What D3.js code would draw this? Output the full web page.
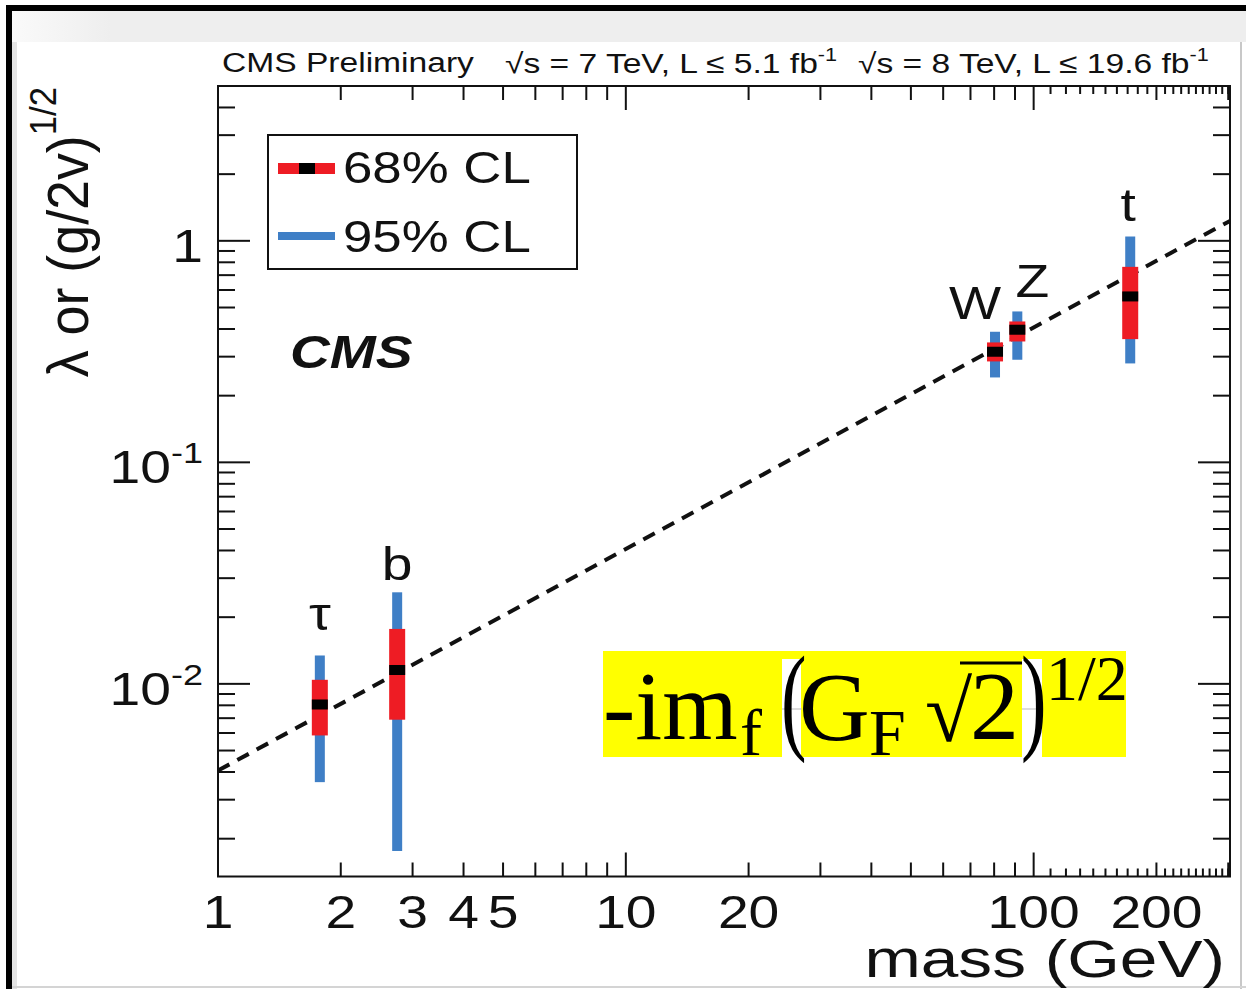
<!DOCTYPE html>
<html>
<head>
<meta charset="utf-8">
<script src="https://cdn.jsdelivr.net/npm/d3@7"></script>
<style>
  body { margin: 0; background: #fff; }
  svg { font-family: "Liberation Sans", Arial, sans-serif; }
</style>
</head>
<body>
<svg id="chart" width="1246" height="989"></svg>
<script>
const particles = ["τ", "b", "W", "Z", "t"];
const masses = [1.777, 2.75, 80.4, 91.19, 172.5];
const central = [0.00807, 0.01155, 0.3157, 0.3969, 0.561];
const lo68 = [0.00585, 0.00689, 0.2855, 0.3513, 0.36];
const hi68 = [0.01043, 0.0177, 0.3478, 0.4325, 0.763];
const lo95 = [0.0036, 0.00176, 0.2417, 0.2905, 0.2796];
const hi95 = [0.01343, 0.0259, 0.3886, 0.48, 1.046];
// SM expectation (end points of the dashed line)
const smMass = [1, 303];
const smCoupling = [0.00406, 1.23];
const xTickLabels = [1, 2, 3, 4, 5, 10, 20, 100, 200];
const yTickValues = [1, 0.1, 0.01];
const yTickExps = ["", "-1", "-2"];

const SX = 1.2; // the picture is stretched sideways
const red = "#ee1c24", blue = "#3f7fc6", ink = "#111";

const svg = d3.select("#chart");

// page frame
svg.append("rect").attr("x", 0).attr("y", 0).attr("width", 1246).attr("height", 989).attr("fill", "#fff");
const grad = svg.append("defs").append("linearGradient").attr("id", "topband");
grad.append("stop").attr("offset", "0%").attr("stop-color", "#fafafa");
grad.append("stop").attr("offset", "8%").attr("stop-color", "#eeeeee");
grad.append("stop").attr("offset", "100%").attr("stop-color", "#eeeeee");
svg.append("rect").attr("x", 12).attr("y", 11).attr("width", 1234).attr("height", 31).attr("fill", "url(#topband)");
svg.append("rect").attr("x", 12).attr("y", 42).attr("width", 5).attr("height", 947).attr("fill", "#e4e4e4");
svg.append("rect").attr("x", 1240).attr("y", 42).attr("width", 2).attr("height", 947).attr("fill", "#c8c8c8");
svg.append("rect").attr("x", 12).attr("y", 986).attr("width", 1234).attr("height", 2).attr("fill", "#d4d4d4");
svg.append("rect").attr("x", 6).attr("y", 5).attr("width", 1240).attr("height", 6).attr("fill", "#000");
svg.append("rect").attr("x", 6).attr("y", 5).attr("width", 6).attr("height", 984).attr("fill", "#000");

const x = d3.scaleLog().domain([1, 303]).range([218, 1230]);
const y = d3.scaleLog().domain([0.00135, 5]).range([876.5, 86]);

function stext(g, px, py, size, anchor, sx) {
    return g.append("text")
        .attr("transform", "translate(" + px + "," + py + ") scale(" + (sx || SX) + ",1)")
        .attr("font-size", size)
        .attr("fill", ink)
        .attr("text-anchor", anchor || "start");
}

// ticks on all four sides
const ticks = svg.append("g").attr("stroke", ink).attr("stroke-width", 2);
const xt = x.ticks().filter(v => v <= 303).map(v => ({v: v, len: [1, 10, 100].includes(v) ? 24 : 14}))
    .concat(d3.range(110, 301, 10).filter(v => v !== 200).map(v => ({v: v, len: 8})));
xt.forEach(d => {
    const px = x(d.v);
    ticks.append("line").attr("x1", px).attr("x2", px).attr("y1", 876.5).attr("y2", 876.5 - d.len);
    ticks.append("line").attr("x1", px).attr("x2", px).attr("y1", 86).attr("y2", 86 + d.len);
});
y.ticks().forEach(v => {
    const py = y(v);
    const len = yTickValues.includes(v) ? 32 : 17;
    ticks.append("line").attr("x1", 218).attr("x2", 218 + len).attr("y1", py).attr("y2", py);
    ticks.append("line").attr("x1", 1230).attr("x2", 1230 - len).attr("y1", py).attr("y2", py);
});
svg.append("rect").attr("x", 218).attr("y", 86).attr("width", 1012).attr("height", 790.5)
    .attr("fill", "none").attr("stroke", ink).attr("stroke-width", 2);

// tick labels
xTickLabels.forEach(v => {
    stext(svg, x(v), 928, 46, "middle").text(v);
});
yTickValues.forEach((v, i) => {
    const t = stext(svg, 203, y(v) + 21, 46, "end");
    if (yTickExps[i] === "") {
        t.text("1");
    } else {
        t.append("tspan").text("10");
        t.append("tspan").attr("font-size", 30).attr("dy", -20).text(yTickExps[i]);
    }
});

// axis titles
stext(svg, 1225, 977, 52, "end", 1.3).text("mass (GeV)");
const yt = svg.append("text")
    .attr("transform", "translate(88,87) rotate(-90) scale(1.12," + SX + ")")
    .attr("font-size", 48).attr("fill", ink).attr("text-anchor", "end");
yt.append("tspan").text("λ or (g/2v)");
yt.append("tspan").attr("font-size", 31).attr("dy", -27).text("1/2");

// header
stext(svg, 222, 72, 28).text("CMS Preliminary");
const h1 = stext(svg, 505, 73, 28);
h1.append("tspan").text("√s = 7 TeV, L ≤ 5.1 fb");
h1.append("tspan").attr("font-size", 18).attr("dy", -12).text("-1");
const h2 = stext(svg, 858, 73, 28);
h2.append("tspan").text("√s = 8 TeV, L ≤ 19.6 fb");
h2.append("tspan").attr("font-size", 18).attr("dy", -12).text("-1");

stext(svg, 290, 368, 46).attr("font-weight", "bold").attr("font-style", "italic").text("CMS");

// SM line
svg.append("path")
    .attr("d", d3.line().x(d => x(d[0])).y(d => y(d[1]))(smMass.map((m, i) => [m, smCoupling[i]])))
    .attr("stroke", ink).attr("stroke-width", 4).attr("stroke-dasharray", "13,9").attr("fill", "none");

// measurements
const pts = particles.map((p, i) => ({p: p, m: masses[i], c: central[i], l68: lo68[i], h68: hi68[i], l95: lo95[i], h95: hi95[i]}));
const g = svg.append("g");
g.selectAll(".b95").data(pts).enter().append("rect")
    .attr("x", d => x(d.m) - 5).attr("width", 10)
    .attr("y", d => y(d.h95)).attr("height", d => y(d.l95) - y(d.h95)).attr("fill", blue);
g.selectAll(".b68").data(pts).enter().append("rect")
    .attr("x", d => x(d.m) - 8).attr("width", 16)
    .attr("y", d => y(d.h68)).attr("height", d => y(d.l68) - y(d.h68)).attr("fill", red);
g.selectAll(".bc").data(pts).enter().append("rect")
    .attr("x", d => x(d.m) - 8).attr("width", 16)
    .attr("y", d => y(d.c) - 5).attr("height", 10).attr("fill", "#000");

const labelShift = {"τ": [0, -25], "b": [0, -12], "W": [-20, -13], "Z": [15, -14], "t": [-2, -16]};
pts.forEach(d => {
    const s = labelShift[d.p];
    stext(svg, x(d.m) + s[0], y(d.h95) + s[1], 46, "middle").text(d.p);
});

// legend
svg.append("rect").attr("x", 268).attr("y", 135).attr("width", 309).attr("height", 134)
    .attr("fill", "#fff").attr("stroke", ink).attr("stroke-width", 2);
svg.append("rect").attr("x", 278).attr("y", 163).attr("width", 57).attr("height", 11).attr("fill", red);
svg.append("rect").attr("x", 299).attr("y", 163).attr("width", 16).attr("height", 11).attr("fill", "#000");
svg.append("rect").attr("x", 278).attr("y", 232).attr("width", 57).attr("height", 8).attr("fill", blue);
stext(svg, 343, 183, 44).text("68% CL");
stext(svg, 343, 252, 44).text("95% CL");

// yellow formula
const f = svg.append("g");
f.append("rect").attr("x", 603).attr("y", 651).attr("width", 523).attr("height", 106).attr("fill", "#ffff00");
f.append("rect").attr("x", 782).attr("y", 659).attr("width", 19).attr("height", 103).attr("fill", "#fff");
f.append("rect").attr("x", 1022).attr("y", 659).attr("width", 20).attr("height", 103).attr("fill", "#fff");
f.selectAll("line.g").data([782, 1022]).enter().append("line")
    .attr("x1", d => d).attr("x2", d => d + 20).attr("y1", 709).attr("y2", 709).attr("stroke", "#bbb");
function ft(px, py, size, str, sx) {
    return f.append("text").attr("transform", "translate(" + px + "," + py + ") scale(" + (sx || 1) + ",1)")
        .style("font-family", "'Liberation Serif', 'Times New Roman', serif")
        .attr("font-size", size).attr("fill", "#000").text(str);
}
ft(603, 739, 97, "-im");
ft(740, 755, 66, "f");
ft(781, 738, 118, "(", 0.65);
ft(799, 740, 98, "G");
ft(869, 755, 66, "F");
ft(925, 741, 86, "√");
f.append("line").attr("x1", 960).attr("x2", 1022).attr("y1", 663).attr("y2", 663).attr("stroke", "#000").attr("stroke-width", 3);
ft(970, 739, 98, "2");
ft(1021, 738, 118, ")", 0.65);
ft(1046, 700, 64, "1/2");
</script>
</body>
</html>
